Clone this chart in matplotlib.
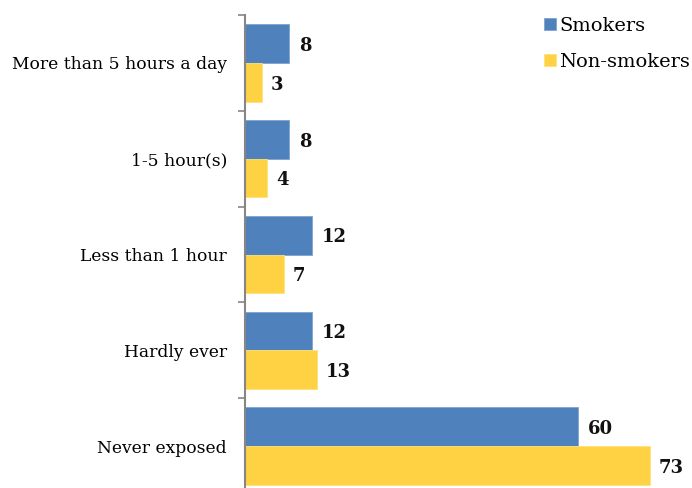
import matplotlib
matplotlib.use("Agg")
import matplotlib.pyplot as plt
import numpy as np

categories = ["More than 5 hours a day", "1-5 hour(s)", "Less than 1 hour",
              "Hardly ever", "Never exposed"]
smokers = [8, 8, 12, 12, 60]
non_smokers = [3, 4, 7, 13, 73]
series_names = ["Smokers", "Non-smokers"]

BLUE = "#4F81BD"
YELLOW = "#FFD243"
FONT = ["DejaVu Serif"]

plt.rcParams["font.family"] = FONT

W, H = 692, 488
fig = plt.figure(figsize=(W / 100, H / 100), dpi=100)
left, top, bottom = 245, 15, 494
ax = fig.add_axes((left / W, 1 - bottom / H, (W - left) / W, (bottom - top) / H))

n = len(categories)
pos = np.arange(n)  # 0 = top
bar_h = 0.405
ax.barh(pos - bar_h / 2, smokers, height=bar_h, color=BLUE, edgecolor="#7FA3D3",
        linewidth=0.6, label=series_names[0])
ax.barh(pos + bar_h / 2, non_smokers, height=bar_h, color=YELLOW, edgecolor="#FFE07A",
        linewidth=0.6, label=series_names[1])

# value labels, nudged a little below the bar centre like the original
dy = 0.025
for i in range(n):
    ax.text(smokers[i] + 1.75, pos[i] - bar_h / 2 + dy, str(smokers[i]), va="center",
            ha="left", fontsize=13, fontweight="bold", color="#111111")
    ax.text(non_smokers[i] + 1.6, pos[i] + bar_h / 2 + dy, str(non_smokers[i]), va="center",
            ha="left", fontsize=13, fontweight="bold", color="#111111")

ax.set_xlim(0, (W - left) / 5.548)
ax.set_ylim(n - 0.5, -0.5)

ax.set_yticks(pos)
ax.set_yticklabels(categories, fontsize=12.3, color="#000000")
ax.tick_params(axis="y", which="major", length=0, pad=13)
ax.set_yticks(np.arange(n + 1) - 0.5, minor=True)
ax.tick_params(axis="y", which="minor", length=5, width=1.2, color="#868686", direction="out")
ax.set_xticks([])

for s in ["top", "right", "bottom"]:
    ax.spines[s].set_visible(False)
ax.spines["left"].set_color("#868686")
ax.spines["left"].set_linewidth(1.5)

leg = fig.legend(loc="upper right", bbox_to_anchor=(1.006, 0.977), frameon=False,
                 fontsize=14, handlelength=0.6, handleheight=0.6, handletextpad=0.2,
                 labelspacing=0.92, borderaxespad=0.0, borderpad=0.3)

fig.savefig("out.png", dpi=100, facecolor="white")
